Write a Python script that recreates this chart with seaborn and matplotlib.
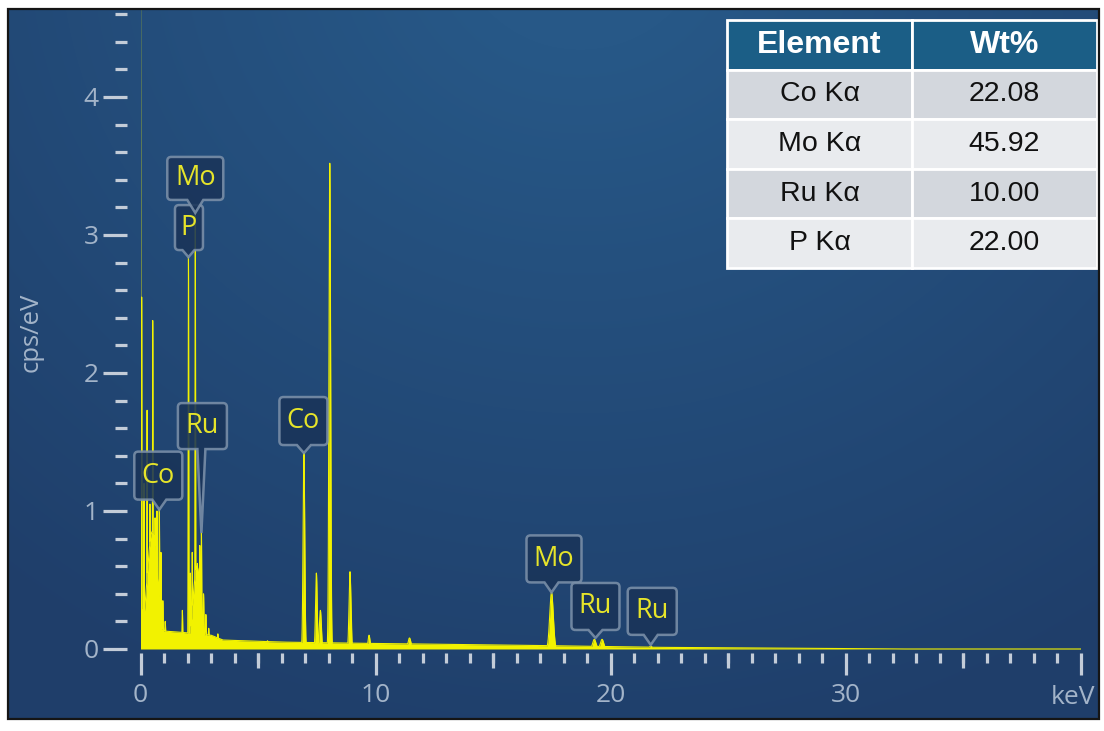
import numpy as np
import matplotlib
matplotlib.use("Agg")
import matplotlib.pyplot as plt
import matplotlib.transforms as mtransforms
from matplotlib.path import Path
from matplotlib.patches import PathPatch, Rectangle
from matplotlib.ticker import MultipleLocator, FixedLocator
import seaborn as sns

# ---------------- data ----------------
# spectral lines: energy (keV), peak height (cps/eV), gaussian width (keV)
peak_energy = [0.00, 0.05, 0.15, 0.28, 0.40, 0.52, 0.62, 0.70, 0.80, 0.87, 0.95, 1.05,
               1.78, 2.04, 2.12, 2.20, 2.33, 2.42, 2.52, 2.59, 2.68, 2.78, 2.90, 3.29,
               5.40, 6.95, 7.48, 7.65, 8.05, 8.91, 9.72, 11.44, 17.48, 19.30, 19.63, 21.70]
peak_height = [5.00, 2.55, 1.20, 1.73, 1.05, 2.38, 0.95, 1.00, 1.02, 0.70, 0.35, 0.20,
               0.28, 2.84, 0.55, 0.70, 3.16, 0.62, 0.75, 0.84, 0.40, 0.25, 0.15, 0.11,
               0.06, 1.42, 0.55, 0.28, 3.52, 0.56, 0.10, 0.08, 0.41, 0.07, 0.07, 0.02]
peak_width = [0.006, 0.008, 0.010, 0.010, 0.012, 0.010, 0.012, 0.012, 0.015, 0.015, 0.020, 0.020,
              0.015, 0.012, 0.015, 0.015, 0.012, 0.015, 0.015, 0.015, 0.020, 0.020, 0.020, 0.020,
              0.030, 0.035, 0.035, 0.040, 0.035, 0.040, 0.040, 0.060, 0.075, 0.070, 0.070, 0.070]
# broad humps under the low-energy line clusters
hump_energy = [0.50, 2.40]
hump_height = [0.85, 0.60]
hump_width = [0.22, 0.16]
# continuum (bremsstrahlung) level
continuum_energy = [0.0, 1.0, 1.8, 3.0, 3.5, 6.0, 10.0, 15.0, 19.0, 22.0, 28.0, 32.0, 40.0]
continuum_level = [0.30, 0.13, 0.12, 0.10, 0.065, 0.05, 0.04, 0.03, 0.02, 0.012, 0.006, 0.0, 0.0]

# peak labels
label_text = ["Co", "Ru", "P", "Mo", "Co", "Mo", "Ru", "Ru"]
label_energy = [0.80, 2.59, 2.04, 2.33, 6.95, 17.48, 19.35, 21.70]
label_tip = [1.01, 0.84, 2.84, 3.16, 1.42, 0.41, 0.08, 0.03]

# quantification table
table_header = ["Element", "Wt%"]
table_elements = ["Co K\u03b1", "Mo K\u03b1", "Ru K\u03b1", "P K\u03b1"]
table_wt = ["22.08", "45.92", "10.00", "22.00"]

x_ticks = [0, 10, 20, 30, 40]
x_tick_labels = ["0", "10", "20", "30", ""]
x_mid_ticks = [5, 15, 25, 35]
y_ticks = [0, 1, 2, 3, 4]
y_tick_labels = ["0", "1", "2", "3", "4"]

# ---------------- layout / style (pixels) ----------------
label_box_w = [48, 49, 28, 56, 48, 55, 48, 49]
label_box_h = [48, 46, 45, 43, 48, 47, 47, 47]
label_gap = [10, 84, 7, 13, 8, 10, 8, 10]
label_dx = [-1, 1, 0.5, 0, -0.5, 2.5, 0, 1.5]
label_half = [7, 4, 6, 8, 7, 7, 7, 7]
label_z = [5, 5, 5, 6, 5, 5, 5, 5]

W, H = 1104, 731
YELLOW = "#f2f200"
TICK_C = "#c3ccd8"
LABEL_C = "#a3b4c9"

sns.set_style("ticks")
plt.rcParams["font.family"] = ["Open Sans", "DejaVu Sans"]

fig = plt.figure(figsize=(W / 100, H / 100), dpi=100)
fig.patch.set_facecolor("white")

# ---------- background panel with radial gradient ----------
L0, T0, R0, B0 = 8, 9, 1099, 719
bg = fig.add_axes([L0 / W, 1 - B0 / H, (R0 - L0) / W, (B0 - T0) / H])
bg.set_axis_off()
yy, xx = np.mgrid[0:(B0 - T0), 0:(R0 - L0)]
px = xx + L0
py = yy + T0
d = np.hypot(px - 580, (py + 60) * 1.1)
t = np.clip((d - 120) / 800, 0, 1)[..., None]
c0 = np.array([0x27, 0x58, 0x87]) / 255
c1 = np.array([0x1f, 0x3e, 0x6a]) / 255
img = c0 * (1 - t) + c1 * t
bg.imshow(img, extent=[0, 1, 0, 1], aspect="auto", interpolation="bilinear", origin="upper")
bg.set_xlim(0, 1)
bg.set_ylim(0, 1)
fig.add_artist(Rectangle((L0 / W, 1 - B0 / H), (R0 - L0) / W, (B0 - T0) / H,
                         transform=fig.transFigure, fill=False, edgecolor="#151515", lw=1.6, zorder=10))

# ---------- spectrum ----------
energy = np.arange(0, 40.0001, 0.002)
components = [np.interp(energy, continuum_energy, continuum_level)]
for e, h, s in zip(hump_energy, hump_height, hump_width):
    components.append(h * np.exp(-0.5 * ((energy - e) / s) ** 2))
for e, h, s in zip(peak_energy, peak_height, peak_width):
    components.append(h * np.exp(-0.5 * ((energy - e) / s) ** 2))
counts = np.max(components, axis=0)

px_per_unit = 138.0
ax = fig.add_axes([140.5 / W, 1 - 653 / H, (1081 - 140.5) / W, (653 - 10) / H])
ax.patch.set_alpha(0)
ax.set_xlim(0, 40)
ax.set_ylim(-4 / px_per_unit, 639 / px_per_unit)

ax.fill_between(energy, 0, counts, color=YELLOW, lw=0, zorder=2)
sns.lineplot(x=energy, y=counts, ax=ax, color=YELLOW, linewidth=0.8,
             estimator=None, sort=False, zorder=3)
ax.set_xlabel("")
ax.set_ylabel("")

for s in ax.spines.values():
    s.set_color("none")
ax.spines["left"].set_position(("outward", 13.5 * 0.72))

ax.xaxis.set_major_locator(FixedLocator(x_ticks))
ax.set_xticklabels(x_tick_labels)
ax.xaxis.set_minor_locator(MultipleLocator(1))
ax.yaxis.set_major_locator(FixedLocator(y_ticks))
ax.set_yticklabels(y_tick_labels)
ax.yaxis.set_minor_locator(MultipleLocator(0.2))

ax.tick_params(axis="both", which="both", color=TICK_C, labelcolor=LABEL_C,
               bottom=True, left=True, top=False, right=False, direction="out")
ax.tick_params(axis="y", which="major", length=17.3, width=2.3, pad=3, labelsize=19)
ax.tick_params(axis="y", which="minor", length=8.6, width=2.3)
ax.tick_params(axis="x", which="major", length=15.8, width=2.3, pad=6, labelsize=19)
ax.tick_params(axis="x", which="minor", length=7.2, width=2.3)

sec = ax.secondary_xaxis("bottom")
sec.set_xticks(x_mid_ticks)
sec.tick_params(axis="x", length=10.8, width=2.3, color=TICK_C, labelbottom=False)
for s in sec.spines.values():
    s.set_visible(False)

fig.text(31 / W, 1 - 332 / H, "cps/eV", rotation=90, ha="center", va="center",
         color=LABEL_C, fontsize=18.5)
fig.text(1073 / W, 1 - 697 / H, "keV", ha="center", va="center",
         color=LABEL_C, fontsize=19)

# ---------- callout labels ----------
ident = mtransforms.IdentityTransform()


def callout(text, e, h, w, bh, gap, dx, half, z):
    tx, ty = ax.transData.transform((e, h))
    cx = tx + dx
    Lb, Rb = cx - w / 2, cx + w / 2
    Bb = ty + gap
    Tb = Bb + bh
    r = 4
    verts = [(Lb + r, Bb), (tx - half, Bb), (tx, ty), (tx + half, Bb), (Rb - r, Bb),
             (Rb, Bb), (Rb, Bb + r), (Rb, Tb - r), (Rb, Tb), (Rb - r, Tb),
             (Lb + r, Tb), (Lb, Tb), (Lb, Tb - r), (Lb, Bb + r), (Lb, Bb), (Lb + r, Bb)]
    codes = [Path.MOVETO, Path.LINETO, Path.LINETO, Path.LINETO, Path.LINETO,
             Path.CURVE3, Path.CURVE3, Path.LINETO, Path.CURVE3, Path.CURVE3,
             Path.LINETO, Path.CURVE3, Path.CURVE3, Path.LINETO, Path.CURVE3, Path.CURVE3]
    patch = PathPatch(Path(verts, codes), facecolor="#1a3459", alpha=0.88,
                      edgecolor="#7b90a9", lw=1.8, transform=ident, clip_on=False, zorder=z)
    fig.add_artist(patch)
    fig.text(cx / W, (Bb + bh / 2) / H, text, ha="center", va="center", color="#e6e42a",
             fontsize=19.5, zorder=z + 0.5)


for i in range(len(label_text)):
    callout(label_text[i], label_energy[i], label_tip[i], label_box_w[i], label_box_h[i],
            label_gap[i], label_dx[i], label_half[i], label_z[i])

# ---------- table ----------
tax = fig.add_axes([727 / W, 1 - 268 / H, 370 / W, 248 / H])
tax.set_axis_off()
cell_text = [[e, w] for e, w in zip(table_elements, table_wt)]
tbl = tax.table(cellText=cell_text, colLabels=table_header, cellLoc="center", bbox=[0, 0, 1, 1])
tbl.auto_set_font_size(False)
for (r, c), cell in tbl.get_celld().items():
    cell.set_edgecolor("white")
    cell.set_linewidth(2)
    txt = cell.get_text()
    if r == 0:
        cell.set_facecolor("#1b5e86")
        txt.set_color("white")
        txt.set_fontweight("bold")
        txt.set_fontsize(23)
        txt.set_family(["Liberation Sans", "DejaVu Sans"])
    else:
        cell.set_facecolor("#d3d7dd" if r % 2 == 1 else "#e9ebee")
        txt.set_color("#111111")
        txt.set_fontsize(20.5)
        txt.set_family(["Liberation Sans", "DejaVu Sans"])

fig.savefig("out.png", dpi=100)
